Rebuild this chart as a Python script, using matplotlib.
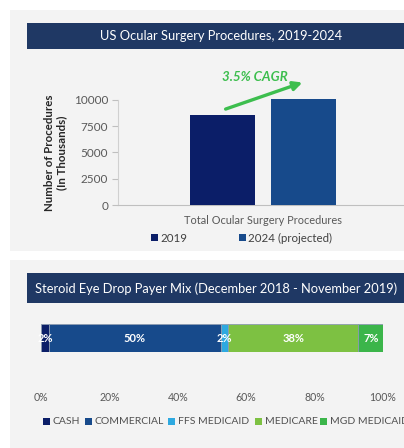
import matplotlib
matplotlib.use("Agg")
import matplotlib.pyplot as plt
from matplotlib.patches import Rectangle

plt.rcParams['font.family'] = ['Lato', 'DejaVu Sans']

# ---- data ----
proc_category = ["Total Ocular Surgery Procedures"]
proc_years = ["2019", "2024 (projected)"]
proc_values = [8600, 10100]
proc_yticks = [0, 2500, 5000, 7500, 10000]
cagr_label = "3.5% CAGR"

payers = ["CASH", "COMMERCIAL", "FFS MEDICAID", "MEDICARE", "MGD MEDICAID"]
payer_share = [2.4, 50.1, 2.2, 38.1, 7.2]
pct_ticks = [0, 20, 40, 60, 80, 100]

W, H = 404, 448
fig = plt.figure(figsize=(W / 100, H / 100), dpi=100)
fig.patch.set_facecolor("white")

def box(x0, y0, x1, y1):
    return [x0 / W, 1 - y1 / H, (x1 - x0) / W, (y1 - y0) / H]

# background panels
bg = fig.add_axes([0, 0, 1, 1])
bg.set_xlim(0, W); bg.set_ylim(H, 0); bg.axis("off")
bg.add_patch(Rectangle((10, 10), 400, 241, facecolor="#F3F3F3", edgecolor="none", zorder=1))
bg.add_patch(Rectangle((10, 260), 400, 200, facecolor="#F3F3F3", edgecolor="none", zorder=1))
bg.add_patch(Rectangle((27, 23), 390, 26, facecolor="#1F3864", edgecolor="none", zorder=2))
bg.add_patch(Rectangle((27, 273), 390, 30, facecolor="#1F3864", edgecolor="none", zorder=2))
bg.text(221, 36.5, "US Ocular Surgery Procedures, 2019-2024", color="white",
        fontsize=9.3, ha="center", va="center", zorder=3)
bg.text(35, 288.5, "Steroid Eye Drop Payer Mix (December 2018 - November 2019)",
        color="white", fontsize=9.3, ha="left", va="center", zorder=3)

# ---- top chart ----
ax = fig.add_axes(box(118, 79, 408, 205))
ax.patch.set_alpha(0)
bar_colors = ["#0B1E68", "#174A8B"]
offsets = [-0.28, 0.28]
for v, c, o, lab in zip(proc_values, bar_colors, offsets, proc_years):
    ax.bar(0 + o, v, width=0.45, color=c, label=lab, zorder=3)
ax.set_xlim(-1, 1)
ax.set_ylim(0, 12000)
ax.set_yticks(proc_yticks)
ax.set_yticklabels([str(t) for t in proc_yticks], fontsize=8.5, color="#595959")
ax.set_xticks([0])
ax.set_xticklabels(proc_category, fontsize=7.9, color="#595959")
ax.tick_params(axis="x", length=0, pad=7)
ax.tick_params(axis="y", length=4, color="#BFBFBF", pad=3)
for s in ["top", "right"]:
    ax.spines[s].set_visible(False)
ax.spines["left"].set_color("#D0D0D0")
ax.spines["left"].set_bounds(0, 10000)
ax.spines["bottom"].set_color("#BFBFBF")
ax.set_ylabel("Number of Procedures\n(In Thousands)", fontsize=8.3,
              color="#262626", fontweight="bold", linespacing=1.1)
ax.yaxis.set_label_coords((67 - 118) / 290, (205 - 153) / 126)
ax.annotate("", xy=(0.29, 11750), xytext=(-0.276, 9050),
            arrowprops=dict(arrowstyle="-|>", color="#3DBE4E", lw=2.4,
                            mutation_scale=13), annotation_clip=False)
ax.text(-0.055, 12150, cagr_label, color="#3DBE4E", fontsize=9.6,
        fontweight="bold", style="italic", ha="center", va="center", clip_on=False)

# legend for top chart
top_leg_x = [151, 239]
for lab, c, x in zip(proc_years, bar_colors, top_leg_x):
    bg.add_patch(Rectangle((x, 234.5), 7, 7, facecolor=c, edgecolor="none", zorder=3))
    bg.text(x + 9.5, 238, lab, fontsize=8.3, color="#404040", ha="left",
            va="center", zorder=3)

# ---- bottom chart ----
ax2 = fig.add_axes(box(41, 324, 383, 352))
ax2.patch.set_alpha(0)
payer_colors = ["#0B1E68", "#174A8B", "#2EA9E0", "#7DC142", "#3BB54A"]
left = 0
for name, v, c in zip(payers, payer_share, payer_colors):
    ax2.barh(0, v, left=left, height=1.0, color=c, edgecolor="#8C9BB0",
             linewidth=0.6, label=name)
    ax2.text(left + v / 2, 0, f"{round(v)}%", color="white", fontsize=8,
             ha="center", va="center", fontweight="bold")
    left += v
ax2.set_xlim(0, 100)
ax2.set_ylim(-0.5, 0.5)
ax2.set_yticks([])
ax2.set_xticks(pct_ticks)
ax2.set_xticklabels([f"{t}%" for t in pct_ticks], fontsize=7.6, color="#595959")
ax2.tick_params(axis="x", length=0, pad=(387 - 352) - 6)
for s in ax2.spines.values():
    s.set_visible(False)

# legend for payer mix
leg_x = [43, 85, 168, 255, 320]
for name, c, x in zip(payers, payer_colors, leg_x):
    bg.add_patch(Rectangle((x, 418.5), 7, 7, facecolor=c, edgecolor="none", zorder=3))
    bg.text(x + 9.5, 422, name, fontsize=7.5, color="#505050", ha="left",
            va="center", zorder=3)

fig.savefig("out.png", dpi=100)
